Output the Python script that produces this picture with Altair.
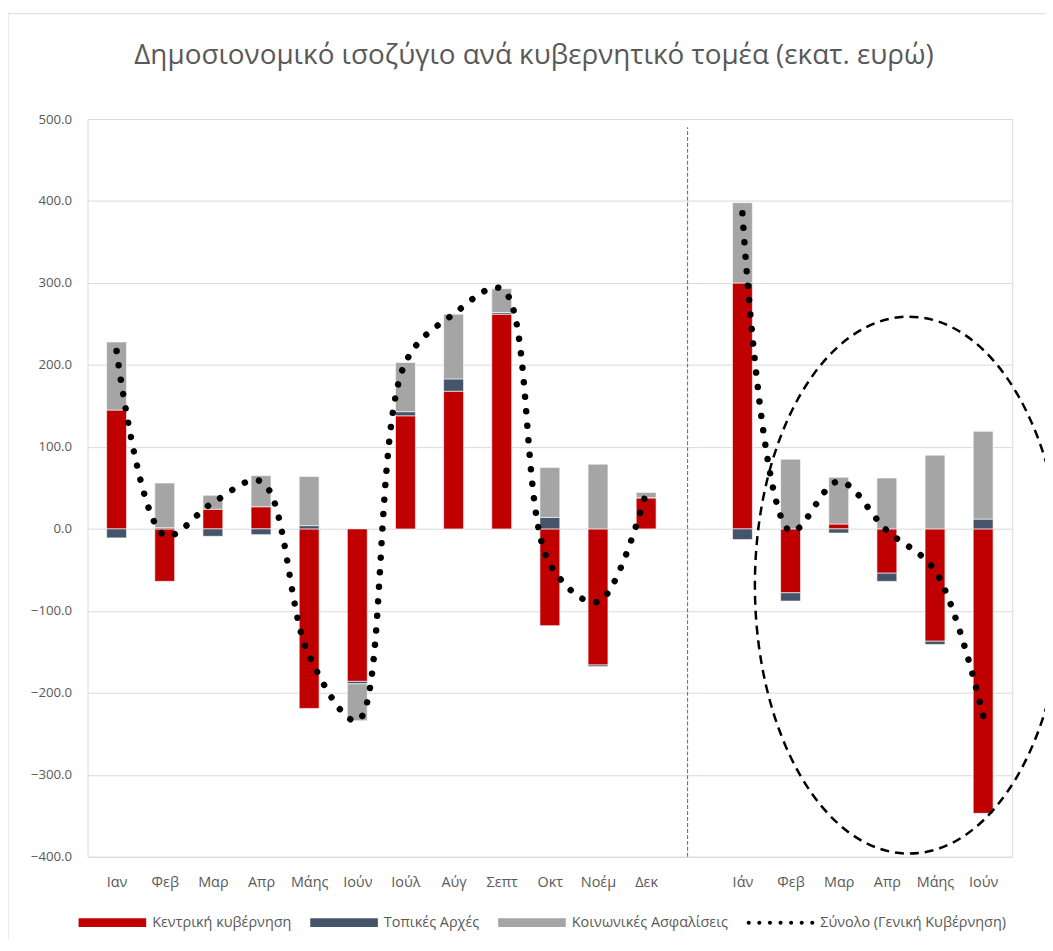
import altair as alt
import pandas as pd

# ---- data ----
months_2024 = ["Ιαν", "Φεβ", "Μαρ", "Απρ", "Μάης", "Ιούν", "Ιούλ", "Αύγ", "Σεπτ", "Οκτ", "Νοέμ", "Δεκ"]
months_2025 = ["Ιάν", "Φεβ", "Μαρ", "Απρ", "Μάης", "Ιούν"]

central_2024 = [145, -64, 24, 27, -219, -186, 138, 168, 262, -118, -166, 38]
local_2024 = [-11, 1.5, -9, -7, 4, -3, 5, 15, 2, 14, -2, 0]
social_2024 = [83, 54.5, 17, 38, 60, -45, 60, 79, 29, 61, 79, 6.5]
total_2024 = [217, -8, 32, 58, -155, -234, 203, 262, 293, -43, -89, 44.5]

central_2025 = [300, -78, 6, -54, -137, -347]
local_2025 = [-13, -10, -5, -10, -4, 12]
social_2025 = [98, 85, 57, 62, 90, 107]
total_2025 = [385, -3, 58, -2, -51, -228]

series_names = ["Κεντρική κυβέρνηση", "Τοπικές Αρχές", "Κοινωνικές Ασφαλίσεις", "Σύνολο (Γενική Κυβέρνηση)"]
series_colors = ["#C00000", "#44546A", "#A5A5A5", "#000000"]

title_text = "Δημοσιονομικό ισοζύγιο ανά κυβερνητικό τομέα (εκατ. ευρώ)"

axis_labels = months_2024 + [""] + months_2025
idx_2024 = list(range(0, 12))
idx_2025 = list(range(13, 19))

# annotation positions (data units)
divider_x = 11.86
ellipse_x = 16.46
ellipse_y = -68.6

# ---- tables ----
rows = []
for idxs, parts in [(idx_2024, [central_2024, local_2024, social_2024]),
                    (idx_2025, [central_2025, local_2025, social_2025])]:
    for k, vals in enumerate(parts):
        for i, v in zip(idxs, vals):
            rows.append({"idx": i, "series": series_names[k], "order": k, "value": v})
bars_df = pd.DataFrame(rows)

tot_rows = []
for idxs, vals, per in [(idx_2024, total_2024, "2024"), (idx_2025, total_2025, "2025")]:
    for i, v in zip(idxs, vals):
        tot_rows.append({"idx": i, "total": v, "period": per})
tot_df = pd.DataFrame(tot_rows)

legend_df = pd.DataFrame({"series": series_names})

FONT = "Open Sans"
TXT = "#595959"

label_expr = "[" + ",".join("'%s'" % m for m in axis_labels) + "][datum.value]"

x_scale = alt.Scale(domain=[-0.5, 18.5], nice=False, zero=False)
y_scale = alt.Scale(domain=[-400, 500], nice=False, zero=False)

x_axis = alt.Axis(values=idx_2024 + idx_2025, labelExpr=label_expr, title=None, grid=False,
                  ticks=False, domain=False, labelPadding=19, labelFontSize=14.5,
                  labelColor=TXT, labelFont=FONT, labelFlush=False, labelOverlap=False)
y_axis = alt.Axis(values=list(range(-400, 501, 100)), format=".1f", title=None, ticks=False,
                  domain=False, gridColor="#D9D9D9", gridWidth=1, labelPadding=16,
                  labelFontSize=13.3, labelColor=TXT, labelFont=FONT)

color_scale = alt.Scale(domain=series_names, range=series_colors)

rect_path = "M -1,-0.13 H 1 V 0.13 H -1 Z"
dot_r = 0.06
dots = []
for j in range(7):
    cx = -0.94 + j * (1.88 / 6)
    dots.append(f"M {cx - dot_r:.4f},0 A {dot_r},{dot_r} 0 1,0 {cx + dot_r:.4f},0 "
                f"A {dot_r},{dot_r} 0 1,0 {cx - dot_r:.4f},0 Z")
dots_path = " ".join(dots)
shape_scale = alt.Scale(domain=series_names, range=[rect_path, rect_path, rect_path, dots_path])


def make_legend():
    return alt.Legend(
        title=None, orient="none", legendX=-9, legendY=774, direction="horizontal",
        columns=4, symbolSize=4624, labelFontSize=14.5, labelColor=TXT, labelFont=FONT,
        labelOffset=6, columnPadding=18, symbolStrokeWidth=0, labelLimit=400,
        symbolOpacity=1)


bars = alt.Chart(bars_df).transform_stack(
    stack="value", groupby=["idx"], as_=["y0", "y1"],
    sort=[alt.SortField("order", order="ascending")], offset="zero"
).mark_bar(size=20, stroke="white", strokeWidth=0.6).encode(
    x=alt.X("idx:Q", scale=x_scale, axis=x_axis),
    y=alt.Y("y0:Q", scale=y_scale, axis=y_axis),
    y2="y1:Q",
    color=alt.Color("series:N", scale=color_scale, legend=make_legend()),
)

line = alt.Chart(tot_df).mark_line(
    interpolate="catmull-rom", strokeDash=[0.01, 14.6], strokeCap="round",
    strokeWidth=6.5, color="black"
).encode(
    x=alt.X("idx:Q", scale=x_scale),
    y=alt.Y("total:Q", scale=y_scale),
    detail="period:N",
)

divider = alt.Chart(pd.DataFrame({"x": [divider_x], "y": [-400], "y2": [490]})).mark_rule(
    color="#3D7BE0", strokeDash=[4, 2], strokeWidth=1.1
).encode(x="x:Q", y="y:Q", y2="y2:Q")

R = 1.742
k = 0.5523
ellipse_path = (
    f"M 1,0 C 1,{k*R:.4f} {k:.4f},{R} 0,{R} "
    f"C {-k:.4f},{R} -1,{k*R:.4f} -1,0 "
    f"C -1,{-k*R:.4f} {-k:.4f},{-R} 0,{-R} "
    f"C {k:.4f},{-R} 1,{-k*R:.4f} 1,0 Z"
)
ellipse = alt.Chart(pd.DataFrame({"x": [ellipse_x], "y": [ellipse_y]})).mark_point(
    shape=ellipse_path, size=96100, filled=False, stroke="black", strokeWidth=2.5,
    strokeDash=[9, 6], opacity=1
).encode(x="x:Q", y="y:Q")

legend_layer = alt.Chart(legend_df).transform_filter("false").mark_point(
    filled=True, opacity=1
).encode(
    color=alt.Color("series:N", scale=color_scale, legend=make_legend()),
    shape=alt.Shape("series:N", scale=shape_scale, legend=make_legend()),
)

border_left = alt.Chart(pd.DataFrame({"a": [0]})).mark_rule(color="#D9D9D9", strokeWidth=1).encode(
    x=alt.value(-80), y=alt.value(-106), y2=alt.value(900))
border_top = alt.Chart(pd.DataFrame({"a": [0]})).mark_rule(color="#D9D9D9", strokeWidth=1).encode(
    x=alt.value(-80), x2=alt.value(1000), y=alt.value(-106))

title = alt.Chart(pd.DataFrame({"t": [title_text]})).mark_text(
    font=FONT, fontSize=28, color=TXT, align="center", baseline="alphabetic"
).encode(text="t:N", x=alt.value(449), y=alt.value(-55))

chart = alt.layer(border_left, border_top, title, bars, divider, line, ellipse, legend_layer).properties(
    width=930, height=742,
    autosize=alt.AutoSizeParams(type="none"),
    padding={"left": 80, "top": 109, "right": 33, "bottom": 81},
).configure_view(stroke=None).configure(font=FONT)

chart.save("out.html", embed_options={"renderer": "svg", "actions": False})
